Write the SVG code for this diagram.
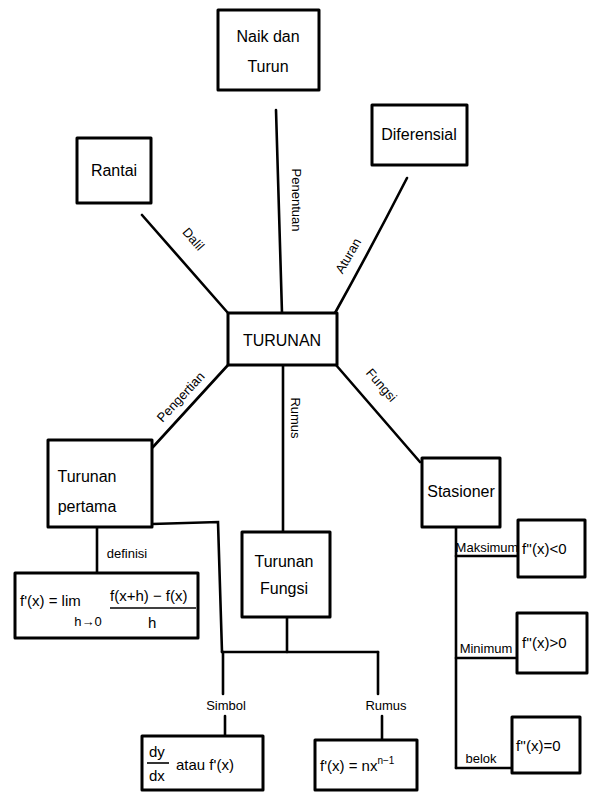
<svg xmlns="http://www.w3.org/2000/svg" width="590" height="801" viewBox="0 0 590 801">
<style>
.box{fill:#fff;stroke:#000;stroke-width:3;stroke-linejoin:round}
.ln{fill:none;stroke:#000;stroke-width:2.6;stroke-linecap:round}
.t{font-family:"Liberation Sans",Arial,sans-serif;font-size:16px;fill:#000;text-anchor:middle}
.s{font-family:"Liberation Sans",Arial,sans-serif;font-size:13px;fill:#000;text-anchor:middle}
.f{font-family:"Liberation Sans",Arial,sans-serif;font-size:15px;fill:#000}
</style>
<rect width="590" height="801" fill="#fff"/>
<g id="connectors">
<line class="ln" x1="276" y1="110" x2="282" y2="313"/>
<line class="ln" x1="142" y1="215" x2="228" y2="313"/>
<path class="ln" d="M407,178 Q370,250 335,313"/>
<line class="ln" x1="228" y1="365" x2="153" y2="447"/>
<line class="ln" x1="336" y1="365" x2="420" y2="462"/>
<line class="ln" x1="283" y1="365" x2="283" y2="532"/>
<polyline class="ln" points="152,524 218,522 222,652"/>
<line class="ln" x1="97" y1="527" x2="97" y2="573"/>
<line class="ln" x1="287" y1="617" x2="287" y2="652"/>
<line class="ln" x1="222" y1="652" x2="378" y2="652"/>
<line class="ln" x1="223" y1="652" x2="223" y2="694"/>
<line class="ln" x1="378" y1="652" x2="378" y2="694"/>
<line class="ln" x1="225" y1="716" x2="225" y2="736"/>
<line class="ln" x1="382" y1="716" x2="382" y2="740"/>
<line class="ln" x1="456" y1="527" x2="456" y2="768"/>
<line class="ln" x1="456" y1="556" x2="518" y2="556"/>
<line class="ln" x1="456" y1="658" x2="517" y2="658"/>
<line class="ln" x1="456" y1="768" x2="512" y2="768"/>
<text class="s" transform="translate(292,200) rotate(90)">Penentuan</text>
<text class="s" transform="translate(190,242) rotate(49)">Dalil</text>
<text class="s" transform="translate(352,258) rotate(-60)">Aturan</text>
<text class="s" transform="translate(184,400) rotate(-47)">Pengertian</text>
<text class="s" transform="translate(378,388) rotate(49)">Fungsi</text>
<text class="s" transform="translate(291,418) rotate(90)">Rumus</text>
<text class="s" x="127" y="558">definisi</text>
<text class="s" x="226" y="710">Simbol</text>
<text class="s" x="386" y="710">Rumus</text>
<text class="s" x="487" y="552" font-size="11">Maksimum</text>
<text class="s" x="486" y="653" font-size="11">Minimum</text>
<text class="s" x="481" y="763" font-size="12">belok</text>
</g>
<g id="naik-turun">
<rect class="box" x="218" y="10" width="101" height="80"/>
<text class="t" x="268" y="42">Naik dan</text>
<text class="t" x="268" y="72">Turun</text>
</g>
<g id="rantai">
<rect class="box" x="77" y="138" width="74" height="65"/>
<text class="t" x="114" y="176">Rantai</text>
</g>
<g id="diferensial">
<rect class="box" x="372" y="105" width="95" height="60"/>
<text class="t" x="419" y="140">Diferensial</text>
</g>
<g id="turunan">
<rect class="box" x="228" y="313" width="109" height="52"/>
<text class="t" x="282" y="346" font-size="17">TURUNAN</text>
</g>
<g id="turunan-pertama">
<rect class="box" x="48" y="440" width="104" height="87"/>
<text class="t" x="87" y="482">Turunan</text>
<text class="t" x="87" y="512">pertama</text>
</g>
<g id="definisi-box">
<rect class="box" x="15" y="573" width="183" height="65"/>
<text class="f" x="20" y="606">f'(x) = lim</text>
<text class="s" x="88" y="626" font-size="10">h→0</text>
<text class="f" x="110" y="601">f(x+h) − f(x)</text>
<line x1="110" y1="608" x2="196" y2="608" stroke="#000" stroke-width="1.6"/>
<text class="f" x="148" y="628">h</text>
</g>
<g id="turunan-fungsi">
<rect class="box" x="242" y="532" width="88" height="85"/>
<text class="t" x="284" y="567">Turunan</text>
<text class="t" x="284" y="594">Fungsi</text>
</g>
<g id="simbol-box">
<rect class="box" x="142" y="736" width="121" height="54"/>
<text class="f" x="149" y="757">dy</text>
<line x1="147" y1="763" x2="169" y2="763" stroke="#000" stroke-width="1.6"/>
<text class="f" x="149" y="781">dx</text>
<text class="f" x="176" y="770">atau f'(x)</text>
</g>
<g id="rumus-box">
<rect class="box" x="315" y="740" width="102" height="50"/>
<text class="f" x="320" y="771">f'(x) = nx<tspan font-size="10" dy="-7">n−1</tspan></text>
</g>
<g id="stasioner">
<rect class="box" x="422" y="458" width="78" height="69"/>
<text class="t" x="461" y="497">Stasioner</text>
</g>
<g id="maksimum-box">
<rect class="box" x="518" y="520" width="67" height="57"/>
<text class="f" x="522" y="554">f''(x)&lt;0</text>
</g>
<g id="minimum-box">
<rect class="box" x="517" y="613" width="70" height="60"/>
<text class="f" x="522" y="648">f''(x)&gt;0</text>
</g>
<g id="belok-box">
<rect class="box" x="512" y="717" width="68" height="56"/>
<text class="f" x="516" y="751">f''(x)=0</text>
</g>
</svg>
